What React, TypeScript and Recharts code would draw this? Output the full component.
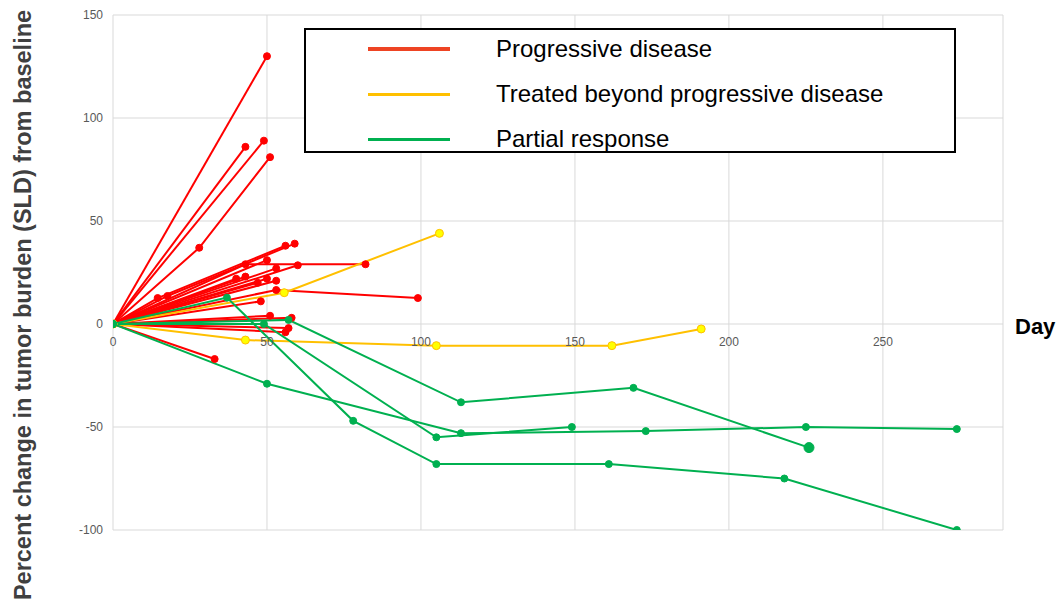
import { LineChart, Line, XAxis, YAxis, CartesianGrid, ReferenceLine } from "recharts";

type Pt = [number, number];

const X_MAX = 289;
const Y_MIN = -100;
const Y_MAX = 150;
const X_TICKS = [0, 50, 100, 150, 200, 250];
const Y_TICKS = [-100, -50, 0, 50, 100, 150];

// [day, % change] per patient
const progressiveDisease: Pt[][] = [
  [[0, 0], [50, 130]],
  [[0, 0], [43, 86]],
  [[0, 0], [49, 89]],
  [[0, 0], [28, 37], [51, 81]],
  [[0, 0], [14.5, 12.6], [56, 38]],
  [[0, 0], [17.7, 13.6], [59, 39]],
  [[0, 0], [43, 29], [82, 29]],
  [[0, 0], [60, 28.5]],
  [[0, 0], [50, 31]],
  [[0, 0], [53, 27]],
  [[0, 0], [40, 22]],
  [[0, 0], [43, 23]],
  [[0, 0], [50, 22]],
  [[0, 0], [53, 21]],
  [[0, 0], [47, 20]],
  [[0, 0], [53, 16.5], [99, 12.6]],
  [[0, 0], [48, 11]],
  [[0, 0], [51, 4]],
  [[0, 0], [58, 3]],
  [[0, 0], [57, -2]],
  [[0, 0], [56, -4]],
  [[0, 0], [33, -17]],
];

const treatedBeyond: Pt[][] = [
  [[0, 0], [55.6, 15.2], [106, 44]],
  [[0, 0], [43, -7.8], [105, -10.5], [162, -10.5], [191, -2.4]],
];

const partialResponse: Pt[][] = [
  [[0, 0], [37, 12.8], [78, -47], [105, -68], [161, -68], [218, -75], [274, -100]],
  [[0, 0], [57, 2], [113, -38], [169, -31], [226, -60]],
  [[0, 0], [49, 0], [105, -55], [149, -50]],
  [[0, 0], [50, -29], [113, -53], [173, -52], [225, -50], [274, -51]],
];

const W = 1059;
const H = 612;
const M = { top: 15, right: 56, bottom: 52, left: 53 };
const PLOT_H = H - M.top - M.bottom - 30;
const ZERO_SHIFT = (PLOT_H * (0 - Y_MIN)) / (Y_MAX - Y_MIN);

const RED = "#FF0000";
const YELLOW = "#FFC000";
const GREEN = "#00B050";
const GRID = "#D9D9D9";
const FONT = "Liberation Sans, Arial, sans-serif";
const TICK = { fill: "#595959", fontSize: 12, fontFamily: FONT };

const toRows = (pts: Pt[]) => pts.map(([day, pct]) => ({ day, pct }));

function DayTick(props: any) {
  const { x, y, payload } = props;
  return (
    <text x={x} y={y - ZERO_SHIFT + 18} textAnchor="middle" dominantBaseline="central" {...TICK}>
      {payload.value}
    </text>
  );
}

// last point of one partial responder is drawn a bit heavier in the source
function makeDot(color: string, fill: string, r: number, lastBig: boolean, n: number) {
  return (props: any) => {
    const { cx, cy, index } = props;
    const rr = lastBig && index === n - 1 ? 5 : r;
    return <circle key={index} cx={cx} cy={cy} r={rr} fill={fill} stroke={color} strokeWidth={1} />;
  };
}

const legendItems = [
  { label: "Progressive disease", color: "#EE4423", w: 4 },
  { label: "Treated beyond progressive disease", color: YELLOW, w: 3 },
  { label: "Partial response", color: GREEN, w: 3 },
];

export default function App() {
  const series = [
    ...progressiveDisease.map((p) => ({ p, color: RED, fill: RED, r: 3.5, big: false })),
    ...treatedBeyond.map((p) => ({ p, color: YELLOW, fill: "#FFFF00", r: 4, big: false })),
    ...partialResponse.map((p, i) => ({ p, color: GREEN, fill: GREEN, r: 3.5, big: i === 1 })),
  ];

  return (
    <div style={{ position: "absolute", left: 0, top: 0, width: W, height: H, background: "#fff" }}>
      <LineChart width={W} height={H} margin={M}>
        <CartesianGrid stroke={GRID} horizontalValues={Y_TICKS} verticalValues={X_TICKS} />
        <XAxis
          type="number"
          dataKey="day"
          domain={[0, X_MAX]}
          ticks={X_TICKS}
          axisLine={false}
          tickLine={false}
          tickSize={0}
          tickMargin={0}
          tick={<DayTick />}
          allowDataOverflow
        />
        <YAxis
          type="number"
          dataKey="pct"
          domain={[Y_MIN, Y_MAX]}
          ticks={Y_TICKS}
          axisLine={false}
          tickLine={false}
          tickSize={0}
          tickMargin={10}
          tick={TICK}
          allowDataOverflow
        />
        <ReferenceLine x={X_MAX} stroke={GRID} />
        {series.map((s, i) => (
          <Line
            key={i}
            data={toRows(s.p)}
            dataKey="pct"
            stroke={s.color}
            strokeWidth={2}
            dot={makeDot(s.color, s.fill, s.r, s.big, s.p.length)}
            activeDot={false}
            isAnimationActive={false}
          />
        ))}
      </LineChart>

      <div
        style={{
          position: "absolute",
          left: 23 - 320,
          top: 305 - 14,
          width: 640,
          height: 28,
          lineHeight: "28px",
          textAlign: "center",
          transform: "rotate(-90deg)",
          fontFamily: FONT,
          fontWeight: 700,
          fontSize: 23.5,
          color: "#404040",
          whiteSpace: "nowrap",
        }}
      >
        Percent change in tumor burden (SLD) from baseline
      </div>

      <div
        style={{
          position: "absolute",
          left: 1015,
          top: 314,
          fontFamily: FONT,
          fontWeight: 700,
          fontSize: 22,
          color: "#000",
        }}
      >
        Day
      </div>

      <div
        style={{
          position: "absolute",
          left: 304,
          top: 28,
          width: 652,
          height: 125,
          boxSizing: "border-box",
          border: "2px solid #000",
          background: "#fff",
          fontFamily: FONT,
        }}
      >
        {legendItems.map((it, i) => (
          <div key={it.label} style={{ position: "absolute", left: 0, top: 19 + i * 45 - 14, height: 28, width: "100%" }}>
            <div
              style={{
                position: "absolute",
                left: 62,
                top: 14 - it.w / 2,
                width: 82,
                height: it.w,
                background: it.color,
              }}
            />
            <div style={{ position: "absolute", left: 190, top: 0, lineHeight: "28px", fontSize: 24, color: "#000", whiteSpace: "nowrap" }}>
              {it.label}
            </div>
          </div>
        ))}
      </div>
    </div>
  );
}
